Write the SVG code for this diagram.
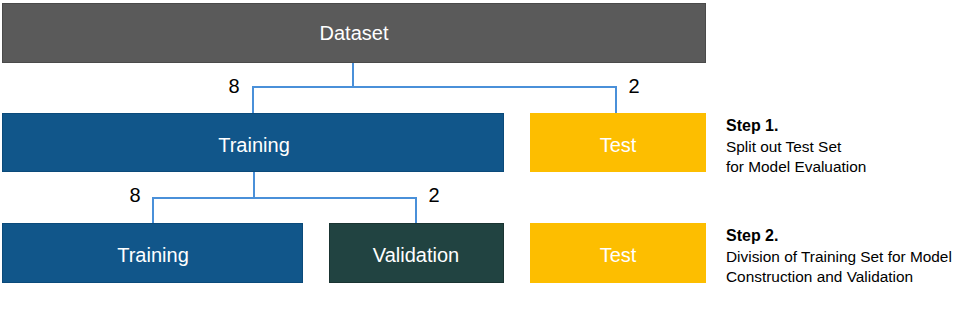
<svg xmlns="http://www.w3.org/2000/svg" width="957" height="334" viewBox="0 0 957 334">
<style>
.box-text{font-family:"Liberation Sans",Arial,sans-serif;font-size:20px;fill:#ffffff;text-anchor:middle}
.num{font-family:"Liberation Sans",Arial,sans-serif;font-size:20px;fill:#000000;text-anchor:middle}
.step{font-family:"Liberation Sans",Arial,sans-serif;font-size:15.4px;fill:#000000}
.step-b{font-weight:bold;font-size:16px}
.dataset{fill:#5a5a5a;stroke:#4a4a4a;stroke-width:1}
.training{fill:#11568a;stroke:#0b4a7a;stroke-width:1}
.validation{fill:#214341;stroke:#1a3432;stroke-width:1}
.test{fill:#fdbe00}
.conn{fill:none;stroke:#4a90d9;stroke-width:2}
</style>
<rect width="957" height="334" fill="#ffffff"/>
<g id="connectors">
<path class="conn" d="M353 63 V87 M253 113 V87 H616 V113"/>
<path class="conn" d="M254 172 V198 M153 223 V198 H416 V223"/>
</g>
<g id="labels">
<text class="num" x="234" y="93">8</text>
<text class="num" x="634" y="93">2</text>
<text class="num" x="135" y="202">8</text>
<text class="num" x="434" y="202">2</text>
</g>
<g id="dataset">
<rect class="dataset" x="2.5" y="3.5" width="703" height="59"/>
<text class="box-text" x="354" y="40">Dataset</text>
</g>
<g id="training1">
<rect class="training" x="2.5" y="113.5" width="501" height="58"/>
<text class="box-text" x="254" y="152">Training</text>
</g>
<g id="test1">
<rect class="test" x="530" y="113" width="176" height="59"/>
<text class="box-text" x="618" y="152">Test</text>
</g>
<g id="training2">
<rect class="training" x="2.5" y="223.5" width="300" height="59"/>
<text class="box-text" x="153" y="262">Training</text>
</g>
<g id="validation">
<rect class="validation" x="329.5" y="223.5" width="174" height="59"/>
<text class="box-text" x="416" y="262">Validation</text>
</g>
<g id="test2">
<rect class="test" x="530" y="223" width="176" height="60"/>
<text class="box-text" x="618" y="262">Test</text>
</g>
<g id="step1">
<text class="step step-b" x="726" y="131">Step 1.</text>
<text class="step" x="726" y="152">Split out Test Set</text>
<text class="step" x="726" y="172">for Model Evaluation</text>
</g>
<g id="step2">
<text class="step step-b" x="726" y="241">Step 2.</text>
<text class="step" x="726" y="262">Division of Training Set for Model</text>
<text class="step" x="726" y="282">Construction and Validation</text>
</g>
</svg>
